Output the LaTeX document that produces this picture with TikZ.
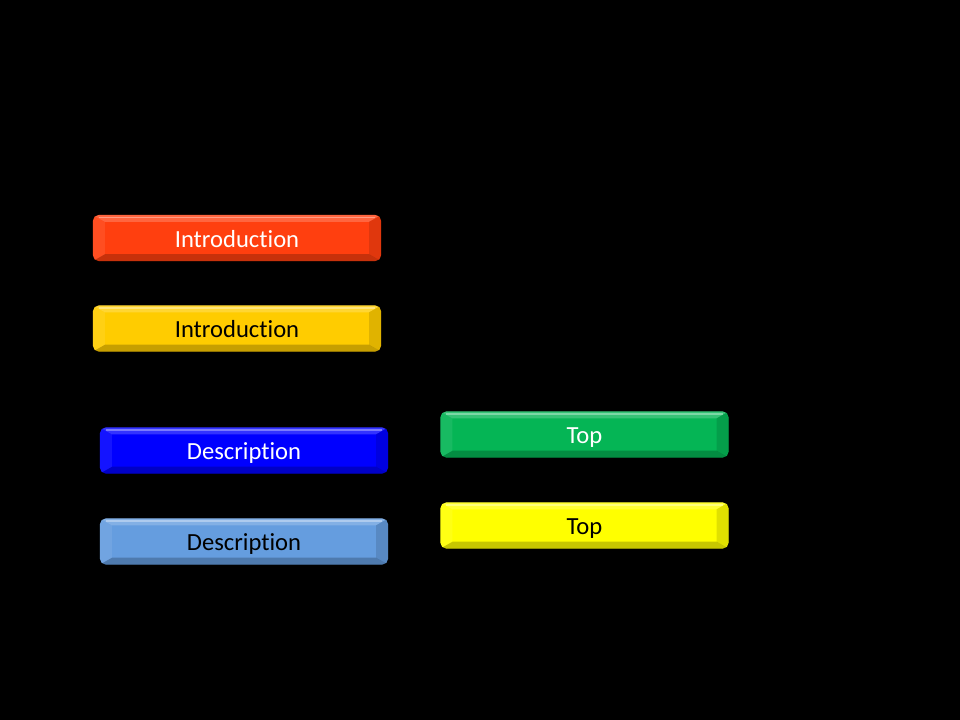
\documentclass[tikz,border=0pt]{standalone}
\usepackage{fontspec}
\setmainfont{Carlito}[Ligatures=NoCommon]

\definecolor{btnred}{HTML}{FF3F0F}
\definecolor{btngold}{HTML}{FFCC00}
\definecolor{btnblue}{HTML}{0000FF}
\definecolor{btnsky}{HTML}{659DDF}
\definecolor{btngreen}{HTML}{05B555}
\definecolor{btnyellow}{HTML}{FFFF00}

% bevel drawn inside every button
\newcommand{\buttonbevel}{%
  \fill[white,opacity=0.2,sharp corners] (path picture bounding box.north west) -- (path picture bounding box.north east)
    -- ([shift={(-0.3cm,-0.17cm)}]path picture bounding box.north east) -- ([shift={(0.3cm,-0.17cm)}]path picture bounding box.north west) -- cycle;
  \draw[white,opacity=0.35,line width=1.2pt,sharp corners] ([shift={(0.15cm,-0.06cm)}]path picture bounding box.north west) -- ([shift={(-0.15cm,-0.06cm)}]path picture bounding box.north east);
  \fill[black,opacity=0.22,sharp corners] (path picture bounding box.south west) -- (path picture bounding box.south east)
    -- ([shift={(-0.3cm,0.17cm)}]path picture bounding box.south east) -- ([shift={(0.3cm,0.17cm)}]path picture bounding box.south west) -- cycle;
  \fill[white,opacity=0.08,sharp corners] (path picture bounding box.north west) -- (path picture bounding box.south west)
    -- ([shift={(0.3cm,0.17cm)}]path picture bounding box.south west) -- ([shift={(0.3cm,-0.17cm)}]path picture bounding box.north west) -- cycle;
  \fill[black,opacity=0.12,sharp corners] (path picture bounding box.north east) -- (path picture bounding box.south east)
    -- ([shift={(-0.3cm,0.17cm)}]path picture bounding box.south east) -- ([shift={(-0.3cm,-0.17cm)}]path picture bounding box.north east) -- cycle;
}

\tikzset{
  button/.style={rounded corners=4pt, fill=#1, minimum width=7.2cm, minimum height=1.15cm,
    inner sep=0pt, text depth=0pt, text height=2.7ex,
    font=\fontsize{17.5}{20}\selectfont, path picture={\buttonbevel}},
}

\begin{document}
\begin{tikzpicture}[x=0.025cm,y=-0.025cm]
 \fill[black] (0,0) rectangle (960,720);
 \useasboundingbox (0,0) rectangle (960,720);
 \foreach \name/\x/\y/\col/\tcol/\txt in {intro1/237/238/btnred/white/Introduction,
   intro2/237/328.5/btngold/black/Introduction,
   descr1/244/450.5/btnblue/white/Description,
   descr2/244/541.5/btnsky/black/Description,
   top1/584.5/434.5/btngreen/white/Top,
   top2/584.5/525.5/btnyellow/black/Top}{%
   \node[button=\col, text=\tcol] (\name) at (\x,\y) {\txt};
 }
\end{tikzpicture}
\end{document}
